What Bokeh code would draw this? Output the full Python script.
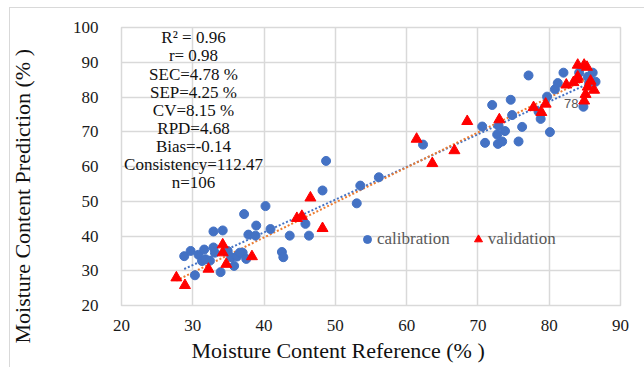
import numpy as np
from bokeh.plotting import figure
from bokeh.models import Range1d, FixedTicker, Legend, LegendItem, Title
from bokeh.core.properties import value
from bokeh.embed import file_html
from bokeh.resources import INLINE

# ---------------- data ----------------
cal_x = [48.7, 48.2, 40.2, 37.2, 38.9, 40.9, 43.6, 46.3, 42.5, 42.7,
         32.9, 34.2, 37.8, 38.8, 28.8, 29.7, 30.8, 31.6, 32.9, 33.1,
         34.9, 35.4, 36.2, 37.0, 35.8, 30.3, 33.9, 31.3, 31.8, 32.4,
         37.5, 45.8, 53.0, 53.5, 56.1, 62.3, 70.6, 71.0, 72.0, 72.7,
         72.8, 73.4, 72.9, 73.8, 74.6, 74.8, 75.7, 76.2, 77.1, 78.5,
         78.8, 79.7, 80.1, 80.8, 81.2, 82.0, 84.8, 84.2, 85.4, 86.1,
         86.5, 85.6, 36.6, 34.6]
cal_y = [61.6, 53.1, 48.6, 46.3, 43.0, 42.0, 40.1, 40.1, 35.4, 33.9,
         41.3, 41.6, 40.4, 40.1, 34.2, 35.7, 34.6, 36.1, 36.7, 35.2,
         35.7, 33.9, 34.1, 35.2, 31.4, 28.7, 29.6, 32.8, 33.3, 32.9,
         33.4, 43.5, 49.4, 54.5, 56.9, 66.3, 71.5, 66.8, 77.7, 69.2,
         66.5, 67.2, 71.7, 70.2, 79.2, 74.8, 67.2, 71.4, 86.2, 75.8,
         73.7, 80.1, 69.9, 82.2, 84.0, 87.0, 77.2, 87.0, 85.8, 87.0,
         84.4, 84.2, 35.2, 35.6]

val_x = [27.7, 28.9, 32.2, 34.2, 34.2, 34.7, 38.3, 44.6, 45.3, 46.5,
         48.2, 61.4, 63.6, 66.7, 68.5, 73.0, 77.8, 79.5, 78.9, 82.4,
         83.4, 84.0, 84.0, 84.9, 85.3, 85.1, 84.9, 85.4, 86.3, 85.8,
         83.9]
val_y = [28.0, 25.8, 30.5, 37.5, 35.2, 31.9, 34.1, 45.1, 45.7, 51.0,
         42.2, 67.9, 60.9, 64.6, 73.0, 73.5, 77.0, 78.0, 75.6, 83.5,
         84.2, 85.8, 89.2, 89.2, 88.6, 80.8, 78.9, 82.9, 82.0, 84.6,
         85.1]

x_ticks = [20, 30, 40, 50, 60, 70, 80, 90]
y_ticks = [20, 30, 40, 50, 60, 70, 80, 90, 100]

stats_lines = ["R² = 0.96", "r= 0.98", "SEC=4.78 %", "SEP=4.25 %", "CV=8.15 %",
               "RPD=4.68", "Bias=-0.14", "Consistency=112.47", "n=106"]

point_label_x = [84.8]
point_label_y = [77.2]
point_label_text = ["78"]

series_names = ["calibration", "validation"]
x_title = "Moisture Content Reference (% )"
y_title = "Moisture Content Prediction (% )"

# ---------------- layout ----------------
W, H = 644, 367
FL, FR, FT, FB = 121, 620, 27, 305
X0, X1, Y0, Y1 = 20, 90, 20, 100
SERIF = "Liberation Serif"


def dx(px):
    return X0 + (px - FL) * (X1 - X0) / (FR - FL)


def dy(py):
    return Y0 + (FB - py) * (Y1 - Y0) / (FB - FT)


p = figure(width=W, height=H, output_backend="svg", toolbar_location=None,
           x_range=Range1d(X0, X1), y_range=Range1d(Y0, Y1),
           min_border_left=FL, min_border_right=W - FR,
           min_border_top=FT, min_border_bottom=H - FB)
p.background_fill_color = "white"
p.border_fill_alpha = 0
# light chart-area border (top and left edges) drawn on the page element
p.styles = {"background-color": "white",
            "box-shadow": "inset 9px 7px 0 0 white, inset 10px 8px 0 0 #d9d9d9"}
p.outline_line_color = "#d9d9d9"
p.outline_line_width = 1.5

p.xaxis.ticker = FixedTicker(ticks=x_ticks)
p.yaxis.ticker = FixedTicker(ticks=y_ticks)
for ax in (p.xaxis, p.yaxis):
    ax.axis_line_color = None
    ax.major_tick_line_color = None
    ax.minor_tick_line_color = None
    ax.major_label_text_font = SERIF
    ax.major_label_text_font_size = "17px"
    ax.major_label_text_color = "#1a1a1a"
p.xaxis.major_label_standoff = 8
p.yaxis.major_label_standoff = 17

p.xgrid.ticker = FixedTicker(ticks=x_ticks)
p.ygrid.ticker = FixedTicker(ticks=y_ticks)
p.grid.grid_line_color = "#d9d9d9"
p.grid.grid_line_width = 1.5

# trendlines (least-squares fit of each series)
for xs, ys, col in ((cal_x, cal_y, "#4472C4"), (val_x, val_y, "#ED7D31")):
    k, b = np.polyfit(xs, ys, 1)
    lx = np.array([min(xs), max(xs)])
    p.line(lx, k * lx + b, line_color=col, line_width=2, line_dash="2 2")

r_cal = p.scatter(cal_x, cal_y, marker="circle", size=9,
                  fill_color="#4472C4", line_color="#4472C4")
r_val = p.scatter(val_x, val_y, marker="triangle", size=11,
                  fill_color="#FF0000", line_color="#FF0000")

# data label
p.text(point_label_x, point_label_y, text=point_label_text, x_offset=-5, y_offset=-3,
       text_align="right", text_baseline="middle", text_font=value("Liberation Sans"),
       text_font_size="13px", text_color="#595959")

# statistics block
n = len(stats_lines)
p.text([dx(193)] * n, [dy(37.3 + 18.1 * i) for i in range(n)], text=stats_lines,
       text_align="center", text_baseline="middle", text_font=value(SERIF),
       text_font_size="17px", text_color="#111111")

# legend
legend = Legend(items=[LegendItem(label=series_names[0], renderers=[r_cal]),
                       LegendItem(label=series_names[1], renderers=[r_val])],
                orientation="horizontal", location=(236, 56),
                glyph_width=20, glyph_height=20, label_standoff=0, spacing=18,
                padding=0, margin=0, border_line_color=None,
                background_fill_alpha=0,
                label_text_font=SERIF, label_text_font_size="17px",
                label_text_color="#595959")
p.add_layout(legend)

# axis titles
p.add_layout(Title(text=x_title, align="left", offset=70, standoff=4,
                   text_font=SERIF, text_font_size="22px", text_font_style="normal",
                   text_color="#111111"), "below")
# spacer between the y tick labels and the y title
p.add_layout(Title(text=" ", standoff=32, text_font_size="1px"), "left")
p.add_layout(Title(text=y_title, align="left", offset=-38, standoff=0,
                   text_font=SERIF, text_font_size="22px", text_font_style="normal",
                   text_color="#111111"), "left")

open("out.html", "w").write(file_html(p, INLINE))
